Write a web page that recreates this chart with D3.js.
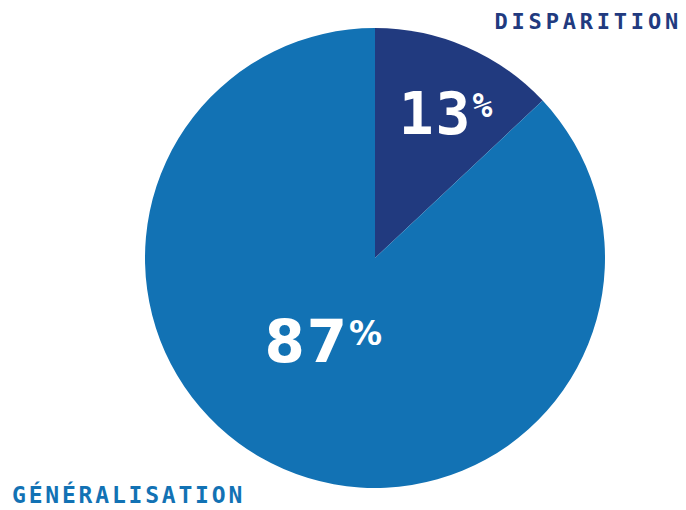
<!DOCTYPE html>
<html>
<head>
<meta charset="utf-8">
<script src="https://cdn.jsdelivr.net/npm/d3@7"></script>
<style>
  body { margin: 0; background: #fff; }
</style>
</head>
<body>
<script>
var w = 686;
var h = 510;

var categories = ["DISPARITION", "GÉNÉRALISATION"];
var values = [13, 87];
var colors = ["#213a7f", "#1272b4"];

var cx = 375, cy = 258, radius = 230;

var svg = d3.select("body")
        .append("svg")
        .attr("width", w)
        .attr("height", h);

var pie = d3.pie()
        .sort(null)
        .value(function (d) { return d.value; });

var data = categories.map(function (c, i) {
    return {name: c, value: values[i], color: colors[i]};
});
var arcs = pie(data);

var arc = d3.arc()
        .innerRadius(0)
        .outerRadius(radius);

var g = svg.append("g")
        .attr("transform", "translate(" + cx + "," + cy + ")");

g.selectAll("path")
        .data(arcs)
        .enter()
        .append("path")
        .attr("d", arc)
        .style("fill", function (d) { return d.data.color; });

// value labels inside the slices
var labelRadius = [165, 100];
var nudge = [[5, 7], [-12, -8]];
var fonts = ["'DejaVu Sans Mono', monospace", "'DejaVu Sans', sans-serif"];

arcs.forEach(function (d, i) {
    var la = d3.arc().innerRadius(labelRadius[i]).outerRadius(labelRadius[i]);
    var p = la.centroid(d);
    var t = g.append("text")
            .attr("x", p[0] + nudge[i][0])
            .attr("y", p[1] + nudge[i][1])
            .attr("text-anchor", "middle")
            .attr("dominant-baseline", "central")
            .style("fill", "#fff")
            .style("font-family", fonts[i])
            .style("font-weight", "bold");
    t.append("tspan")
            .style("font-size", "58px")
            .style("letter-spacing", "2px")
            .text(d.data.value);
    t.append("tspan")
            .attr("dy", "-9")
            .style("font-size", "33px")
            .text("%");
});

// category labels
svg.append("text")
        .attr("x", 682)
        .attr("y", 29)
        .attr("text-anchor", "end")
        .style("font-family", "'DejaVu Sans Mono', monospace")
        .style("font-weight", "bold")
        .style("font-size", "22px")
        .style("letter-spacing", "3.8px")
        .style("fill", colors[0])
        .text(categories[0]);

svg.append("text")
        .attr("x", 12)
        .attr("y", 503)
        .style("font-family", "'DejaVu Sans Mono', monospace")
        .style("font-weight", "bold")
        .style("font-size", "23px")
        .style("letter-spacing", "2.8px")
        .style("fill", colors[1])
        .text(categories[1]);
</script>
</body>
</html>
